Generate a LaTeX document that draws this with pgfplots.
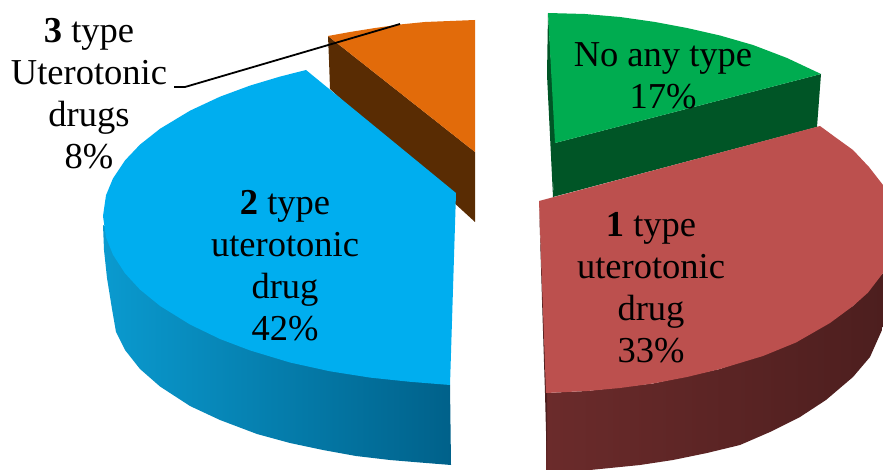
\documentclass[border=0pt]{standalone}
\usepackage{fontspec}
\setmainfont{Liberation Serif}
\usepackage{pgfplots}
\pgfplotsset{compat=1.18}
\definecolor{cGreen}{HTML}{00AC50}
\definecolor{cGreenD}{HTML}{005526}
\definecolor{cRed}{HTML}{BC504E}
\definecolor{cRedL}{HTML}{6B2B2B}
\definecolor{cRedD}{HTML}{4C1E1E}
\definecolor{cBlue}{HTML}{00AEEF}
\definecolor{cBlueL}{HTML}{0A9ACF}
\definecolor{cBlueD}{HTML}{00618A}
\definecolor{cOrange}{HTML}{E26B0A}
\definecolor{cBrown}{HTML}{592C03}
\tikzset{lbl/.style={align=center, text=black, inner sep=0pt,
  font=\fontsize{36.5}{42}\selectfont}}
\begin{document}
\begin{tikzpicture}
\useasboundingbox (0,0) rectangle (883pt,470pt);
\begin{axis}[
  at={(0,0)}, anchor=south west,
  hide axis, scale only axis,
  width=883pt, height=470pt,
  xmin=0, xmax=883, ymin=0, ymax=470,
  y dir=reverse,
  every axis plot/.append style={no markers, draw=none, forget plot},
]
% 3 type wedge: cut face, then top
\addplot[fill=cBrown] coordinates {(328,36)(475,152)(475,222)(330,89)(329,60)};
\addplot[fill=cOrange] coordinates {(328,36)(350,32)(375,28)(400,24.5)(425,22)(450,21)(475,20)(475,152)};
% 2 type wedge: rim, then top
\addplot[left color=cBlueL, right color=cBlueD] coordinates {
  (103,225)(104,250)(107,278)(112,309)(116,332)(125,350)(140,369)(160,386.5)(190,406)(220,420)
  (257,434)(290,443)(323,450)(356,456)(390,460)(420,462.5)(451,465)(450,385)(300,330)};
\addplot[fill=cBlue] coordinates {
  (306,70)(456,193)(450,385)(410,381.8)(370,377.6)(330,371.3)(290,362.5)(250,350.4)(220,339)(190,324.5)
  (160,305.9)(140,289.6)(125,273.3)(113,254.8)(106,237.3)(103,216)(106,195.3)(113,178.4)(125,160.4)
  (140,144.6)(160,128.8)(190,110.7)(220,96.7)(250,85.6)(280,76.6)};
% no-type wedge: cut face, sliver, top
\addplot[fill=cGreenD] coordinates {(555,143)(821,74)(817,127)(553,197)};
\addplot[fill=cGreenD] coordinates {(548,13)(547,75)(553,197)(556,143)};
\addplot[fill=cGreen] coordinates {
  (548,13)(585,14)(620,17)(655,22)(687,28)(720,35.5)(753,45)(787,58)(821,74)(555,143)};
% 1 type wedge: rim, sliver, top
\addplot[left color=cRedL, middle color=cRedD, right color=cRedD] coordinates {
  (546,393)(546,475)(590,470)(640,465)(673,460)(707,453)(740,445)(770,432)(800,417)(826,400)(853,377)
  (870,357)(882,330)(890,300)(883,273)(853,306)(787,345)(720,369)(653,383.5)(587,391)};
\addplot[fill=cRedD] coordinates {(539,203)(542,300)(545,393)(547,470)(547,393)};
\addplot[fill=cRed] coordinates {
  (539,201)(820,126)(835,137)(853,150)(869,167)(883,185)(895,230)(883,273)(868,292.6)(853,306)(830,323)
  (796,342.5)(763,356)(720,369)(687,377)(653,383.5)(620,388)(587,391)(546,393)};
% leader line of the 3 type label
\addplot[draw=black, line width=1.8pt] coordinates {(400,24)(185,87)(174,87)};
% labels
\node[lbl] at (axis cs:89,94) {\textbf{3} type\\Uterotonic\\drugs\\8\%};
\node[lbl] at (axis cs:285,266) {\textbf{2} type\\uterotonic\\drug\\42\%};
\node[lbl] at (axis cs:651,288) {\textbf{1} type\\uterotonic\\drug\\33\%};
\node[lbl] at (axis cs:663,76) {No any type\\17\%};
\end{axis}
\end{tikzpicture}
\end{document}
